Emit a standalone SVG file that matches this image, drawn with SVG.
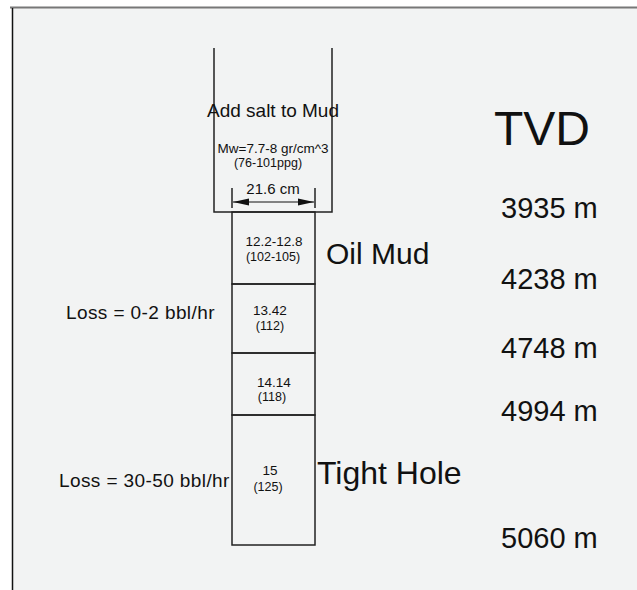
<svg xmlns="http://www.w3.org/2000/svg" width="637" height="590" viewBox="0 0 637 590">
<style>
text{font-family:"Liberation Sans",Arial,sans-serif;fill:#111}
.ln{fill:none;stroke:#222;stroke-width:1.5}
.c{text-anchor:middle}
.s{font-size:13.5px}
.xs{font-size:12.5px}
.tvd{font-size:29px}
.loss{font-size:19px;letter-spacing:0.4px}
</style>
<defs>
<marker id="ah" viewBox="0 0 16 8" refX="16" refY="4" markerWidth="16" markerHeight="8" markerUnits="userSpaceOnUse" orient="auto">
<path d="M0,0.5 L16,4 L0,7.5 Z" fill="#111"/>
</marker>
</defs>
<rect width="637" height="590" fill="#fff"/>
<rect x="12" y="8" width="625" height="582" fill="#f2f3f3"/>
<line x1="10" y1="7.5" x2="637" y2="7.5" stroke="#777" stroke-width="2"/>
<line x1="12.5" y1="8" x2="12.5" y2="590" stroke="#111" stroke-width="1.5"/>
<g id="casing">
<path class="ln" d="M214,48 V212 H332 V48"/>
<text class="c" x="273" y="117" style="font-size:19px">Add salt to Mud</text>
<text class="c s" x="273" y="153">Mw=7.7-8 gr/cm^3</text>
<text class="c xs" x="268" y="167">(76-101ppg)</text>
</g>
<g id="dimension">
<line class="ln" x1="232" y1="188" x2="232" y2="208"/>
<line class="ln" x1="315" y1="188" x2="315" y2="208"/>
<line x1="273" y1="202" x2="233" y2="202" stroke="#111" stroke-width="1" marker-end="url(#ah)"/>
<line x1="273" y1="202" x2="314" y2="202" stroke="#111" stroke-width="1" marker-end="url(#ah)"/>
<text class="c" x="273" y="194" style="font-size:15px">21.6 cm</text>
</g>
<g id="seg1">
<rect class="ln" x="232" y="212" width="83" height="72"/>
<text class="c s" x="274" y="246">12.2-12.8</text>
<text class="c xs" x="273" y="261">(102-105)</text>
</g>
<g id="seg2">
<rect class="ln" x="232" y="284" width="83" height="69"/>
<text class="c s" x="270" y="315">13.42</text>
<text class="c xs" x="270" y="330">(112)</text>
</g>
<g id="seg3">
<rect class="ln" x="232" y="353" width="83" height="62"/>
<text class="c s" x="274" y="387">14.14</text>
<text class="c xs" x="272" y="401">(118)</text>
</g>
<g id="seg4">
<rect class="ln" x="232" y="415" width="83" height="130"/>
<text class="c s" x="270" y="475">15</text>
<text class="c xs" x="268" y="491">(125)</text>
</g>
<g id="labels">
<text x="326" y="264" style="font-size:30px">Oil Mud</text>
<text x="317" y="484" style="font-size:32px">Tight Hole</text>
<text class="loss" x="66" y="319">Loss = 0-2 bbl/hr</text>
<text class="loss" x="59" y="487">Loss = 30-50 bbl/hr</text>
</g>
<g id="tvd">
<text x="494" y="145" style="font-size:48px">TVD</text>
<text class="tvd" x="501" y="218">3935 m</text>
<text class="tvd" x="501" y="289">4238 m</text>
<text class="tvd" x="501" y="358">4748 m</text>
<text class="tvd" x="501" y="421">4994 m</text>
<text class="tvd" x="501" y="548">5060 m</text>
</g>
</svg>
